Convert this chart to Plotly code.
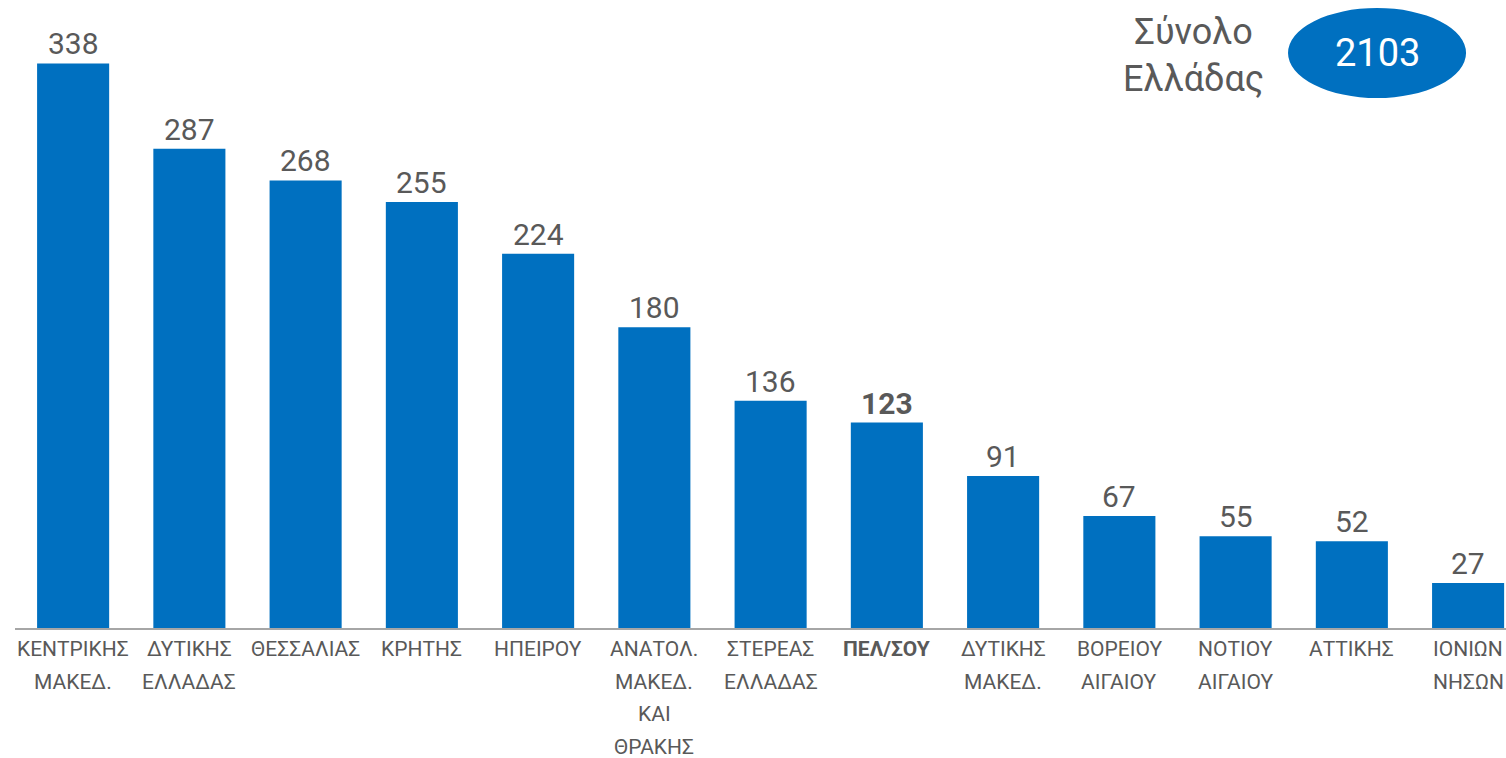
import plotly.graph_objects as go

categories = ["ΚΕΝΤΡΙΚΗΣ ΜΑΚΕΔ.", "ΔΥΤΙΚΗΣ ΕΛΛΑΔΑΣ", "ΘΕΣΣΑΛΙΑΣ", "ΚΡΗΤΗΣ", "ΗΠΕΙΡΟΥ",
              "ΑΝΑΤΟΛ. ΜΑΚΕΔ. ΚΑΙ ΘΡΑΚΗΣ", "ΣΤΕΡΕΑΣ ΕΛΛΑΔΑΣ", "ΠΕΛ/ΣΟΥ", "ΔΥΤΙΚΗΣ ΜΑΚΕΔ.",
              "ΒΟΡΕΙΟΥ ΑΙΓΑΙΟΥ", "ΝΟΤΙΟΥ ΑΙΓΑΙΟΥ", "ΑΤΤΙΚΗΣ", "ΙΟΝΙΩΝ ΝΗΣΩΝ"]
tick_labels = ["ΚΕΝΤΡΙΚΗΣ<br>ΜΑΚΕΔ.", "ΔΥΤΙΚΗΣ<br>ΕΛΛΑΔΑΣ", "ΘΕΣΣΑΛΙΑΣ", "ΚΡΗΤΗΣ", "ΗΠΕΙΡΟΥ",
               "ΑΝΑΤΟΛ.<br>ΜΑΚΕΔ.<br>ΚΑΙ<br>ΘΡΑΚΗΣ", "ΣΤΕΡΕΑΣ<br>ΕΛΛΑΔΑΣ", "ΠΕΛ/ΣΟΥ",
               "ΔΥΤΙΚΗΣ<br>ΜΑΚΕΔ.", "ΒΟΡΕΙΟΥ<br>ΑΙΓΑΙΟΥ", "ΝΟΤΙΟΥ<br>ΑΙΓΑΙΟΥ", "ΑΤΤΙΚΗΣ", "ΙΟΝΙΩΝ<br>ΝΗΣΩΝ"]
values = [338, 287, 268, 255, 224, 180, 136, 123, 91, 67, 55, 52, 27]
highlight = "ΠΕΛ/ΣΟΥ"
total_label = "Σύνολο<br>Ελλάδας"
total_value = 2103

BLUE = "#0070C0"
GRAY = "#595959"
FONT = "Roboto"

fig = go.Figure()
fig.add_trace(go.Bar(x=categories, y=values, marker=dict(color=BLUE, line=dict(width=0)),
                     hoverinfo="skip"))

for c, v, lab in zip(categories, values, tick_labels):
    bold = c == highlight
    txt = f"<b>{v}</b>" if bold else str(v)
    fig.add_annotation(x=c, y=v, text=txt, showarrow=False, xanchor="center", yanchor="bottom",
                       font=dict(family=FONT, size=30, color=GRAY), yshift=0)
    for j, line in enumerate(lab.split("<br>")):
        t = f"<b>{line}</b>" if bold else line
        fig.add_annotation(x=c, y=0, text=t, showarrow=False, xanchor="center", yanchor="top",
                           yshift=-7 - 32.5 * j, font=dict(family=FONT, size=21, color=GRAY))

# total ellipse
fig.add_shape(type="circle", xref="paper", yref="paper",
              x0=0.8538, x1=0.9732, y0=0.8439, y1=0.9873,
              fillcolor=BLUE, line=dict(width=0))
fig.add_annotation(xref="paper", yref="paper", x=0.9135, y=0.9156, text=str(total_value),
                   xanchor="center", yanchor="middle",
                   showarrow=False, font=dict(family=FONT, size=38, color="white"))
fig.add_annotation(xref="paper", yref="paper", x=0.7907, y=0.912, text=total_label,
                   xanchor="center", yanchor="middle",
                   showarrow=False, align="center", font=dict(family=FONT, size=36, color=GRAY))

fig.update_layout(
    width=1506, height=758,
    margin=dict(l=15, r=0, t=0, b=130),
    plot_bgcolor="white", paper_bgcolor="white",
    bargap=0.38, showlegend=False,
    xaxis=dict(range=[-0.5, 12.326], showline=True, linecolor="#A6A6A6", linewidth=2,
               ticks="", showticklabels=False, fixedrange=True),
    yaxis=dict(range=[0, 376], visible=False, showgrid=False, fixedrange=True),
)

fig.write_html("out.html", config={"displayModeBar": False},
               post_script="document.body.style.margin='0';")
